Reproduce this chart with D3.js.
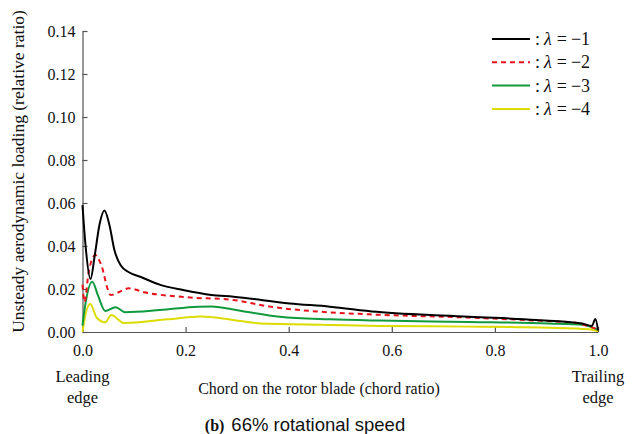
<!DOCTYPE html>
<html>
<head>
<meta charset="utf-8">
<script src="https://cdn.jsdelivr.net/npm/d3@7"></script>
<style>
  html, body { margin: 0; padding: 0; background: #fff; }
  svg { display: block; }
</style>
</head>
<body>
<svg id="chart" width="643" height="434"></svg>
<script>
// Unsteady aerodynamic loading along the chord, four inter-blade phase modes
const xTicks = [0.0, 0.2, 0.4, 0.6, 0.8, 1.0];
const yTicks = [0.00, 0.02, 0.04, 0.06, 0.08, 0.10, 0.12, 0.14];

const lambdaValues = ["\u22121", "\u22122", "\u22123", "\u22124"];

const chord1 = [0, 0.002, 0.006, 0.0155, 0.024, 0.033, 0.0426, 0.052, 0.062, 0.074, 0.09, 0.112, 0.151, 0.195, 0.25, 0.293, 0.402, 0.48, 0.57, 0.75, 0.88, 0.969, 0.988, 0.995, 1.0];
const load1  = [0.059, 0.052, 0.040, 0.0247, 0.036, 0.050, 0.0565, 0.050, 0.038, 0.031, 0.0278, 0.0257, 0.0219, 0.0195, 0.0172, 0.0164, 0.0133, 0.0118, 0.0094, 0.0071, 0.0056, 0.004, 0.0028, 0.006, 0.0008];

const chord2 = [0, 0.004, 0.012, 0.025, 0.035, 0.055, 0.07, 0.09, 0.12, 0.2, 0.292, 0.364, 0.441, 0.557, 0.75, 0.899, 0.957, 0.983, 1.0];
const load2  = [0.022, 0.014, 0.028, 0.0358, 0.032, 0.0172, 0.0185, 0.0203, 0.0185, 0.0162, 0.0149, 0.0118, 0.0098, 0.0082, 0.0067, 0.0051, 0.0043, 0.0025, 0.0012];

const chord3 = [0, 0.005, 0.019, 0.03, 0.044, 0.064, 0.083, 0.15, 0.225, 0.25, 0.306, 0.383, 0.48, 0.576, 0.75, 0.905, 0.973, 1.0];
const load3  = [0.003, 0.012, 0.0234, 0.017, 0.0098, 0.0115, 0.0092, 0.0102, 0.0118, 0.0119, 0.0099, 0.0071, 0.0059, 0.0053, 0.0047, 0.004, 0.0033, 0.001];

const chord4 = [0, 0.004, 0.015, 0.028, 0.044, 0.056, 0.08, 0.165, 0.228, 0.256, 0.306, 0.344, 0.48, 0.576, 0.75, 0.905, 0.983, 1.0];
const load4  = [0.0, 0.006, 0.013, 0.0065, 0.0045, 0.0079, 0.0042, 0.0059, 0.0072, 0.0068, 0.0051, 0.004, 0.0033, 0.0028, 0.0025, 0.002, 0.0013, 0.0003];

const series = [
  { chord: chord1, load: load1, color: "#000000", dash: null },
  { chord: chord2, load: load2, color: "#e8121c", dash: "5,4" },
  { chord: chord3, load: load3, color: "#0f9a3e", dash: null },
  { chord: chord4, load: load4, color: "#dcdc00", dash: null }
];

const margin = { left: 82.5, right: 45, top: 31, bottom: 102 };
const W = 643, H = 434;
const svg = d3.select("#chart");

const x = d3.scaleLinear().domain([0, 1]).range([margin.left, W - margin.right]);
const y = d3.scaleLinear().domain([0, 0.14]).range([H - margin.bottom, margin.top]);

const serif = "'Liberation Serif', 'Times New Roman', serif";
const sans = "'Liberation Sans', Arial, sans-serif";
const axisColor = "#555";

// Axes with inward ticks
const xAxis = svg.append("g")
  .attr("transform", `translate(0,${y(0)})`)
  .call(d3.axisBottom(x).tickValues(xTicks).tickFormat(d3.format(".1f"))
    .tickSizeInner(-5).tickSizeOuter(0).tickPadding(13));
const yAxis = svg.append("g")
  .attr("transform", `translate(${x(0)},0)`)
  .call(d3.axisLeft(y).tickValues(yTicks).tickFormat(d3.format(".2f"))
    .tickSizeInner(-5).tickSizeOuter(0).tickPadding(7));

[xAxis, yAxis].forEach(g => {
  g.select(".domain").attr("stroke", axisColor).attr("stroke-width", 1.2);
  g.selectAll(".tick line").attr("stroke", axisColor).attr("stroke-width", 1.2);
  g.selectAll(".tick text").attr("fill", "#111").style("font-family", serif).style("font-size", "16px");
});

// Curves
const line = d3.line()
  .x(d => x(d[0]))
  .y(d => y(d[1]))
  .curve(d3.curveMonotoneX);

svg.append("g").selectAll("path")
  .data(series.slice().reverse())
  .join("path")
  .attr("d", s => line(s.chord.map((c, i) => [c, s.load[i]])))
  .attr("fill", "none")
  .attr("stroke", s => s.color)
  .attr("stroke-width", 2)
  .attr("stroke-dasharray", s => s.dash)
  .attr("stroke-linejoin", "round");

// Legend
const legend = svg.append("g");
series.forEach((s, i) => {
  const ly = 39 + i * 23.3;
  legend.append("line")
    .attr("x1", 492).attr("x2", 530).attr("y1", ly).attr("y2", ly)
    .attr("stroke", s.color).attr("stroke-width", 2)
    .attr("stroke-dasharray", s.dash);
  const t = legend.append("text")
    .attr("x", 535).attr("y", ly + 6)
    .style("font-family", serif).style("font-size", "18px").attr("fill", "#111");
  t.append("tspan").text(":");
  t.append("tspan").attr("dx", 4).attr("font-style", "italic").text("\u03bb");
  t.append("tspan").attr("dx", 5).text("=");
  t.append("tspan").attr("dx", 4).text(lambdaValues[i]);
});

// Axis titles
svg.append("text")
  .attr("transform", `translate(24,${(y(0) + 5) / 2 + 3}) rotate(-90)`)
  .attr("text-anchor", "middle")
  .style("font-family", serif).style("font-size", "17.5px").attr("fill", "#111")
  .text("Unsteady aerodynamic loading (relative ratio)");

svg.append("text")
  .attr("x", 319).attr("y", 394)
  .attr("text-anchor", "middle")
  .style("font-family", serif).style("font-size", "16px").attr("fill", "#111")
  .text("Chord on the rotor blade (chord ratio)");

const edgeLabels = [
  { pos: 0, lines: ["Leading", "edge"] },
  { pos: 1, lines: ["Trailing", "edge"] }
];
edgeLabels.forEach(e => {
  e.lines.forEach((l, i) => {
    svg.append("text")
      .attr("x", x(e.pos)).attr("y", 382 + i * 20.5)
      .attr("text-anchor", "middle")
      .style("font-family", serif).style("font-size", "16.5px").attr("fill", "#111")
      .text(l);
  });
});

// Panel caption
const cap = svg.append("text")
  .attr("x", 305).attr("y", 431)
  .attr("text-anchor", "middle")
  .attr("fill", "#111");
cap.append("tspan").style("font-family", serif).style("font-weight", "bold").style("font-size", "16px").text("(b)");
cap.append("tspan").style("font-family", sans).style("font-size", "18.5px").attr("dx", 7).text("66% rotational speed");
</script>
</body>
</html>
